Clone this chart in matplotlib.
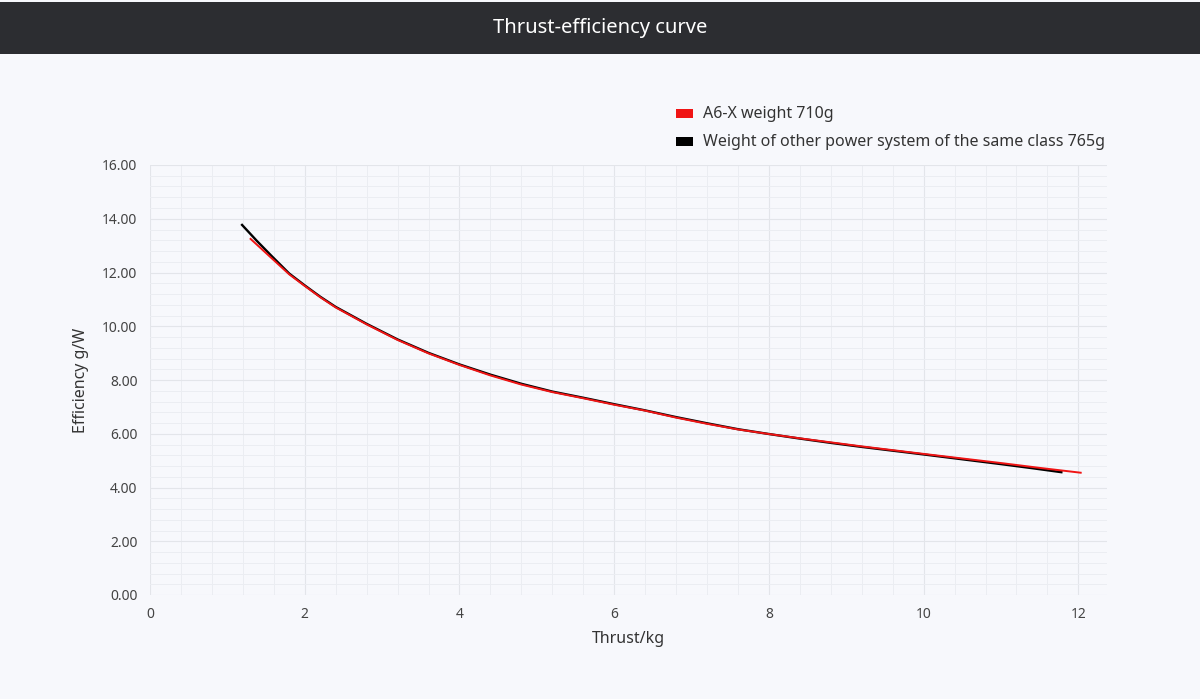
import matplotlib.pyplot as plt
from matplotlib.patches import Rectangle
from matplotlib.ticker import MultipleLocator, FormatStrFormatter

plt.rcParams['font.family'] = ['Noto Sans', 'DejaVu Sans']

title = 'Thrust-efficiency curve'
series_names = ['A6-X weight 710g', 'Weight of other power system of the same class 765g']
series_colors = ['#f01414', '#000000']

# values
a6x_thrust = [1.30, 1.55, 1.80, 2.00, 2.20, 2.40, 2.80, 3.20, 3.60, 4.00, 4.40, 4.80, 5.20, 5.60,
              6.00, 6.40, 6.80, 7.20, 7.60, 8.00, 8.40, 8.80, 9.20, 9.60, 10.00, 10.50, 11.00,
              11.50, 12.03]
a6x_eff = [13.25, 12.59, 11.93, 11.50, 11.08, 10.70, 10.07, 9.49, 8.99, 8.56, 8.17, 7.83, 7.55, 7.32,
           7.08, 6.86, 6.60, 6.37, 6.16, 5.99, 5.83, 5.68, 5.53, 5.39, 5.25, 5.08, 4.91,
           4.73, 4.55]

other_thrust = [1.19, 1.38, 1.57, 1.80, 2.00, 2.20, 2.40, 2.80, 3.20, 3.60, 4.00, 4.40, 4.80, 5.20,
                5.60, 6.00, 6.40, 6.80, 7.20, 7.60, 8.00, 8.40, 8.80, 9.20, 9.60, 10.00, 10.50,
                11.00, 11.40, 11.78]
other_eff = [13.77, 13.18, 12.62, 11.96, 11.52, 11.10, 10.72, 10.09, 9.51, 9.01, 8.58, 8.20, 7.86, 7.57,
             7.34, 7.10, 6.87, 6.62, 6.39, 6.17, 5.99, 5.82, 5.66, 5.51, 5.37, 5.23, 5.05,
             4.87, 4.72, 4.57]

bg = '#f7f8fc'
fig = plt.figure(figsize=(12, 6.99), dpi=100, facecolor=bg)

# header bar
fig.patches.append(Rectangle((0, 1 - 54 / 699), 1, 52 / 699, transform=fig.transFigure,
                             facecolor='#2c2d31', edgecolor='none', zorder=0))
fig.text(0.5, 1 - 28 / 699, title, color='white', fontsize=14.5, ha='center', va='center')

ax = fig.add_axes([150 / 1200, 1 - 595 / 699, 957 / 1200, 430 / 699])
ax.set_facecolor(bg)

ax.plot(other_thrust, other_eff, color=series_colors[1], linewidth=1.7,
        solid_joinstyle='round', zorder=3)
ax.plot(a6x_thrust, a6x_eff, color=series_colors[0], linewidth=1.4,
        solid_joinstyle='round', zorder=4)

ax.set_xlim(0, 12.37)
ax.set_ylim(0, 16)
ax.xaxis.set_major_locator(MultipleLocator(2))
ax.xaxis.set_minor_locator(MultipleLocator(0.4))
ax.yaxis.set_major_locator(MultipleLocator(2))
ax.yaxis.set_minor_locator(MultipleLocator(0.4))
ax.yaxis.set_major_formatter(FormatStrFormatter('%.2f'))

ax.grid(which='major', color='#e3e5ea', linewidth=0.8)
ax.grid(which='minor', color='#ebedf2', linewidth=0.7)
ax.set_axisbelow(True)
for s in ax.spines.values():
    s.set_visible(False)
ax.tick_params(which='both', length=0, labelsize=10, labelcolor='#444444')
ax.tick_params(axis='x', pad=9)
ax.tick_params(axis='y', pad=9)

ax.set_xlabel('Thrust/kg', fontsize=11.5, color='#333333', labelpad=6)
ax.set_ylabel('Efficiency g/W', fontsize=11.5, color='#333333', labelpad=22)
ax.yaxis.set_label_coords(-0.064, 0.5)

# legend drawn by hand at the top right
for i, (name, col) in enumerate(zip(series_names, series_colors)):
    yc = 1 - (114 + 28 * i) / 699
    fig.patches.append(Rectangle((676 / 1200, yc - 4 / 699), 17 / 1200, 9 / 699,
                                 transform=fig.transFigure, facecolor=col, edgecolor='none'))
    fig.text(703 / 1200, yc, name, fontsize=11.5, color='#333333', va='center')

plt.savefig('out.png', dpi=100, facecolor=bg)
